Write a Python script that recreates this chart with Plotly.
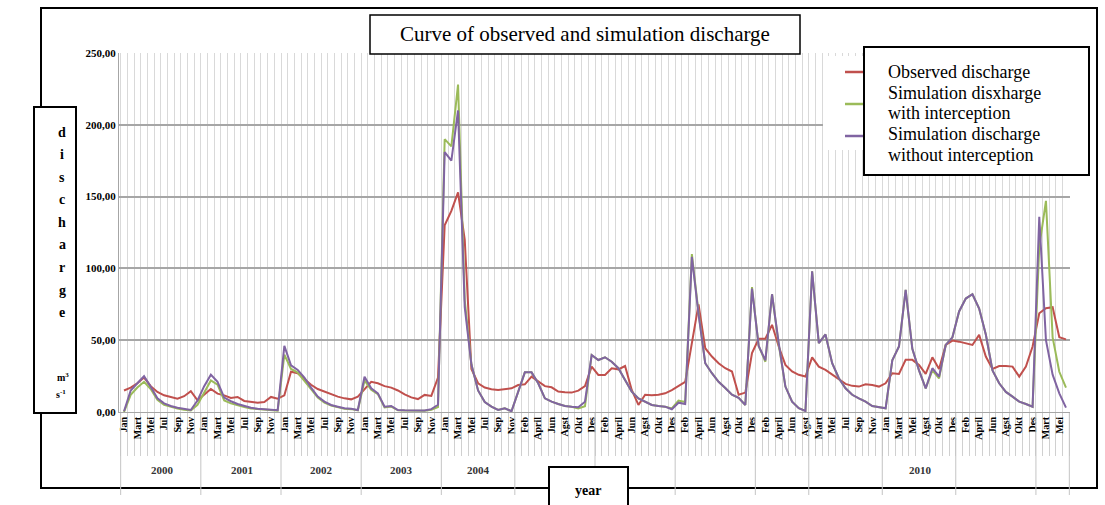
import plotly.graph_objects as go

# ---------------- data ----------------
observed = [
    15, 17, 20, 24, 18, 14, 11.6, 10.5, 9.3, 11, 14.5, 8.1,
    12, 16, 12.8, 11.6, 9.8, 10.5, 7.7, 7, 6.5, 7, 10.5, 9.3,
    11.6, 28, 27, 23, 19, 16, 14.2, 12.3, 10.7, 9.5, 8.8, 10.7,
    16, 21, 20, 18, 17, 15, 12.3, 10.2, 9, 11.9, 11.2, 24,
    130, 140, 153, 120, 30, 20, 17, 15.8, 15.3, 15.8, 16.5, 18.8,
    19.3, 24.6, 21, 18, 17.2, 14.2, 13.7, 13.5, 14.9, 18, 31.6, 25.8,
    25.8, 30.5, 29.7, 32, 15.3, 4.9, 12, 11.6, 12, 13, 15.3, 18,
    21, 48, 75, 44.4, 38.6, 34, 30.5, 28.2, 12, 13.5, 41, 51,
    51, 60.7, 45.6, 32.8, 28.2, 25.9, 24.7, 38, 31.6, 29.3, 25.9, 22.4,
    19.6, 18.2, 17.7, 19.3, 18.8, 17.7, 20, 27, 26.5, 36.3, 36.3, 32.8,
    26.5, 38.1, 30, 46.7, 49.7, 49, 47.9, 46.7, 53.7, 38.6, 30, 32,
    32, 31.6, 24.6, 31.6, 45.6, 68.8, 72.3, 73, 52, 50.6,
]

sim_with = [
    0, 12, 17, 21, 16, 8.5, 5, 3.5, 2.5, 1.5, 1, 5,
    14, 22, 19, 8, 6, 4.5, 3.5, 2.5, 2, 1.5, 1, 1,
    40, 30, 27.5, 22, 16, 10, 6.5, 4.5, 3.2, 2.2, 2, 1.2,
    22, 15.5, 12.5, 3.2, 3.8, 1.2, 1, 0.8, 0.8, 0.8, 1.5, 3.5,
    190, 185, 228, 78, 33, 15, 7, 3.7, 1.4, 2.6, 0.5, 14,
    27.6, 27.6, 20, 9.5, 7.2, 5.6, 4.2, 3.7, 2.5, 4, 39.7, 36.2,
    38.1, 35, 30.5, 22.3, 14.2, 9.5, 7.2, 4.9, 4.2, 3.7, 2.5, 8,
    7, 110, 69, 34, 27, 21, 16.7, 12, 9.8, 4.9, 87, 46,
    35, 82, 47, 17.7, 7.2, 2.6, 0.7, 98, 48, 54, 34, 23.5,
    16.5, 12, 9.5, 7.2, 4.2, 3.3, 2.6, 36, 45.6, 85, 44, 29,
    16.5, 29, 23.5, 46.7, 52, 70, 79, 82, 72, 54, 29, 20,
    14, 10.7, 7.2, 5.6, 3.7, 115, 147, 52, 28, 17,
]

sim_without = [
    0.5, 15, 20, 25, 17.5, 9.5, 6, 4.2, 3, 2, 1.4, 8,
    18, 26, 21, 10, 7.5, 5.6, 4.2, 3, 2.3, 1.9, 1.4, 1.2,
    46, 32.5, 29.3, 24, 17, 10.7, 7.2, 4.9, 3.7, 2.6, 2.3, 1.4,
    24.5, 16.5, 13, 3.7, 4.2, 1.4, 1.2, 1, 1, 1, 2, 5,
    181, 175, 210, 73, 33, 15, 7, 3.7, 1.4, 2.6, 0.5, 14,
    27.6, 27.6, 20, 9.5, 7.2, 5.6, 4.2, 3.7, 3.3, 7.2, 39.7, 36.2,
    38.1, 35, 30.5, 22.3, 14.2, 9.5, 7.2, 4.9, 4.2, 3.7, 1.9, 6.5,
    5.6, 108, 68, 34, 27, 21, 16.7, 12, 9.8, 4.9, 86, 46,
    36, 82, 48, 17.7, 7.2, 2.6, 0.7, 98, 48, 54, 34, 23.5,
    16.5, 12, 9.5, 7.2, 4.2, 3.3, 2.6, 36, 45.6, 85, 44, 29,
    16.5, 30.5, 24.6, 46.7, 52, 70, 79, 82, 72, 54, 29, 20,
    14, 10.7, 7.2, 5.6, 3.7, 136, 50, 26, 13, 3,
]

month_labels = (
    ["Jan", "Mart", "Mei", "Jul", "Sep", "Nov"] * 5
    + ["Feb", "April", "Jun", "Agst", "Okt", "Des"] * 3
    + ["Feb", "April", "Jun", "Agst"]
    + ["Mart", "Mei", "Jul", "Sep", "Nov"]
    + ["Jan", "Mart", "Mei", "Agst", "Okt", "Des"]
    + ["Feb", "April", "Jun", "Agst", "Okt", "Des"]
    + ["Mart", "Mei"]
)

year_labels = ["2000", "2001", "2002", "2003", "2004", "2010"]
year_centers = [5.7, 17.7, 29.6, 41.6, 53, 119.2]
year_separators = [-0.5, 11.5, 23.5, 35.5, 47.5, 58.5, 70.5, 82.5, 94.5,
                   102.5, 113.5, 124.5, 136.5, 141.5]

series_names = ["Observed discharge", "Simulation disxharge with interception",
                "Simulation discharge without interception"]
legend_lines = ["Observed discharge", "Simulation disxharge", "with interception",
                "Simulation discharge", "without interception"]

# ---------------- layout helpers ----------------
W, H = 1105, 505
PL, PR, PT, PB = 119, 1070, 53, 412


def px(x):
    return (x - PL) / (PR - PL)


def py(y):
    return (PB - y) / (PB - PT)


SERIF = "Liberation Serif, Times New Roman, serif"
colors = ["#c0504d", "#9bbb59", "#8064a2"]

x_idx = list(range(len(observed)))

fig = go.Figure()
for vals, name, col in zip([observed, sim_with, sim_without], series_names, colors):
    fig.add_trace(go.Scatter(x=x_idx, y=vals, mode="lines", name=name,
                             line=dict(color=col, width=2), showlegend=False))

shapes = []
annotations = []


def note(text, x, y, size, bold=False, xref="paper", xanchor="center", color="black"):
    f = dict(family=SERIF, size=size, color=color)
    if bold:
        f["weight"] = "bold"
    annotations.append(dict(text=text, xref=xref, yref="paper", x=x, y=y,
                            xanchor=xanchor, yanchor="middle", showarrow=False, font=f))


# outer frame
shapes.append(dict(type="rect", xref="paper", yref="paper",
                   x0=px(41), x1=px(1097), y0=py(488), y1=py(8),
                   line=dict(color="black", width=2), layer="above"))

# year separators
for s in year_separators:
    shapes.append(dict(type="line", xref="x", yref="paper", x0=s, x1=s,
                       y0=py(413), y1=py(495), line=dict(color="#c4c4c4", width=1),
                       layer="above"))
for lab, c in zip(year_labels, year_centers):
    note(lab, c, py(470), 11, bold=True, xref="x", color="#333333")

# white legend background
shapes.append(dict(type="rect", xref="paper", yref="paper",
                   x0=px(823), x1=px(1070), y0=py(150), y1=py(56),
                   fillcolor="white", line=dict(width=0), layer="above"))
# legend sample lines
for col, yy in zip(colors, [72, 104, 136]):
    shapes.append(dict(type="line", xref="paper", yref="paper",
                       x0=px(845), x1=px(866), y0=py(yy), y1=py(yy),
                       line=dict(color=col, width=2.5), layer="above"))
# legend box
shapes.append(dict(type="rect", xref="paper", yref="paper",
                   x0=px(864), x1=px(1089), y0=py(175), y1=py(47),
                   fillcolor="white", line=dict(color="black", width=2), layer="above"))
for txt, yy in zip(legend_lines, [72, 92.5, 113, 134, 155]):
    note(txt, px(886), py(yy), 18, xanchor="left")

# title box
shapes.append(dict(type="rect", xref="paper", yref="paper",
                   x0=px(370), x1=px(800), y0=py(54), y1=py(15),
                   fillcolor="white", line=dict(color="black", width=1.5), layer="above"))
note("Curve of observed and simulation discharge", px(585), py(34), 21)

# y-axis title box
shapes.append(dict(type="rect", xref="paper", yref="paper",
                   x0=px(34), x1=px(76), y0=py(413), y1=py(107),
                   fillcolor="white", line=dict(color="black", width=2), layer="above"))
for k, ch in enumerate("discharge"):
    note(ch, px(62), py(132 + k * 22.6), 14, bold=True)
note("m<sup>3</sup>", px(63), py(377), 10, bold=True)
note("s<sup>-1</sup>", px(61), py(394), 10, bold=True)

# year box
shapes.append(dict(type="rect", xref="paper", yref="paper",
                   x0=px(549), x1=px(628), y0=py(515), y1=py(467),
                   fillcolor="white", line=dict(color="black", width=2), layer="above"))
note("year", px(588), py(490), 14, bold=True)

tick_positions = list(range(0, 2 * len(month_labels), 2))

fig.update_layout(
    width=W, height=H,
    margin=dict(l=PL, r=W - PR, t=PT, b=H - PB, pad=0),
    paper_bgcolor="white", plot_bgcolor="white",
    separators=",.",
    shapes=shapes, annotations=annotations,
    xaxis=dict(
        range=[-0.75, 141.6], tickmode="array", tickvals=tick_positions,
        ticktext=month_labels, tickangle=-90, ticks="", showgrid=False,
        tickfont=dict(family=SERIF, size=10, color="black", weight="bold"),
        showline=True, linecolor="#a6a6a6", linewidth=1, zeroline=False,
        minor=dict(tickmode="linear", tick0=-0.5, dtick=1, ticks="outside", ticklen=43,
                   tickcolor="#d0d0d0", tickwidth=1, showgrid=True,
                   gridcolor="#d9d9d9", gridwidth=1),
    ),
    yaxis=dict(
        range=[0, 250], tickmode="array", tickvals=[0, 50, 100, 150, 200, 250],
        tickformat=".2f", showgrid=True, gridcolor="#a6a6a6", gridwidth=1.5,
        zeroline=False, showline=True, linecolor="#a6a6a6", linewidth=1,
        ticks="", tickfont=dict(family=SERIF, size=11, color="black", weight="bold"),
    ),
)

fig.write_html(
    "out.html",
    config={"displayModeBar": False},
    post_script="document.body.style.margin='0';document.body.style.overflow='hidden';",
)
